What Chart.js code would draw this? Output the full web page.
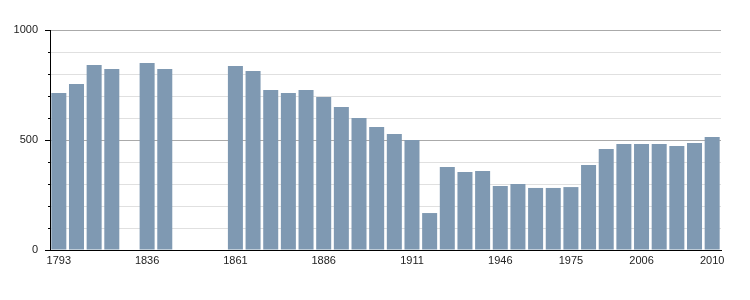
<!DOCTYPE html>
<html>
<head>
<meta charset="utf-8">
<script src="https://cdn.jsdelivr.net/npm/chart.js@4/dist/chart.umd.min.js"></script>
<style>
  html, body { margin: 0; padding: 0; background: #fff; }
  #wrap { width: 750px; height: 300px; position: relative; }
</style>
</head>
<body>
<div id="wrap"><canvas id="c" width="750" height="300"></canvas></div>
<script>
const years = ['1793','1800','1806','1821','1831','1836','1841','1846','1851','1856',
  '1861','1866','1872','1876','1881','1886','1891','1896','1901','1906','1911',
  '1921','1926','1931','1936','1946','1954','1962','1968','1975',
  '1982','1990','1999','2006','2007','2008','2009','2010'];
const population = [714,755,841,823,null,850,823,null,null,null,
  836,814,727,714,727,695,650,600,559,527,500,
  168,377,355,359,291,300,282,282,286,
  386,459,482,482,482,473,486,514];
const shownYearTicks = ['1793','1836','1861','1886','1911','1946','1975','2006','2010'];
const yTickLabels = [0, 500, 1000];

const minorTicks = {
  id: 'minorTicks',
  afterDraw(chart) {
    const y = chart.scales.y;
    const ctx = chart.ctx;
    const left = chart.chartArea.left;
    ctx.save();
    ctx.strokeStyle = '#000';
    ctx.lineWidth = 1;
    y.ticks.forEach(t => {
      if (yTickLabels.includes(t.value)) return;
      const py = Math.round(y.getPixelForValue(t.value)) + 0.5;
      ctx.beginPath();
      ctx.moveTo(left - 2, py);
      ctx.lineTo(left, py);
      ctx.stroke();
    });
    ctx.restore();
  }
};

new Chart(document.getElementById('c'), {
  type: 'bar',
  data: {
    labels: years,
    datasets: [{
      data: population,
      backgroundColor: '#7f99b2',
      borderWidth: 0,
      categoryPercentage: 1.0,
      barPercentage: 0.85
    }]
  },
  options: {
    responsive: false,
    animation: false,
    devicePixelRatio: 1,
    layout: { padding: { left: 0, right: 29, top: 30, bottom: 0 } },
    plugins: { legend: { display: false }, tooltip: { enabled: false } },
    scales: {
      x: {
        grid: { display: false, drawTicks: false },
        border: { display: true, color: '#000', width: 1 },
        ticks: {
          autoSkip: false,
          maxRotation: 0,
          minRotation: 0,
          padding: 4,
          color: '#222',
          font: { family: 'Liberation Sans', size: 11 },
          callback: function(v, i) {
            const lab = this.getLabelForValue(v);
            return shownYearTicks.includes(lab) ? lab : '';
          }
        },
        afterFit(scale) { scale.height = 50; }
      },
      y: {
        min: 0,
        max: 1000,
        grid: {
          color: ctx => (ctx.tick && yTickLabels.includes(ctx.tick.value)) ? '#aaaaaa' : '#e0e0e0',
          tickColor: ctx => (ctx.tick && yTickLabels.includes(ctx.tick.value)) ? '#000' : 'rgba(0,0,0,0)',
          tickLength: 5,
          drawTicks: true
        },
        border: { display: true, color: '#000', width: 1 },
        ticks: {
          stepSize: 100,
          padding: 7,
          color: '#222',
          font: { family: 'Liberation Sans', size: 11 },
          callback: v => yTickLabels.includes(v) ? String(v) : ''
        },
        afterFit(scale) { scale.width = 50; }
      }
    }
  },
  plugins: [minorTicks]
});
</script>
</body>
</html>
